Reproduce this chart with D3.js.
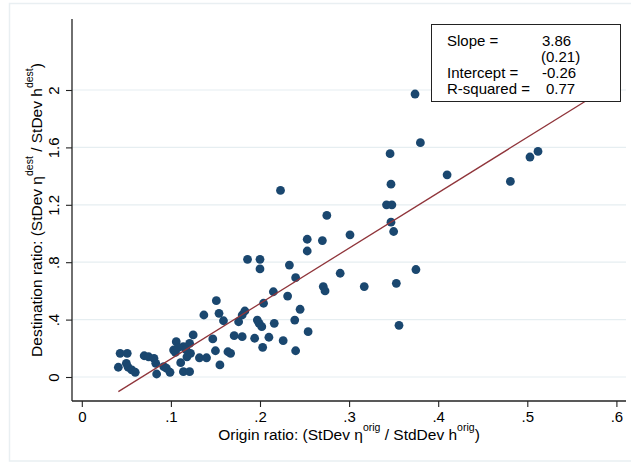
<!DOCTYPE html>
<html>
<head>
<meta charset="utf-8">
<script src="https://cdn.jsdelivr.net/npm/d3@7"></script>
<style>
  body { margin: 0; background: #fff; }
  svg text { font-family: "Liberation Sans", Arial, Helvetica, sans-serif; fill: #000; }
</style>
</head>
<body>
<div id="graphic"></div>
<script>
// Origin ratio (x) and destination ratio (y)
var originRatio = [
    0.043, 0.051, 0.041, 0.050, 0.052, 0.056, 0.060, 0.070, 0.075, 0.081,
    0.083, 0.084, 0.092, 0.095, 0.099, 0.106, 0.103, 0.105, 0.114, 0.121,
    0.125, 0.122, 0.118, 0.111, 0.114, 0.121, 0.132, 0.140, 0.137, 0.147,
    0.150, 0.155, 0.151, 0.154, 0.159, 0.164, 0.167, 0.171, 0.180, 0.176,
    0.180, 0.183, 0.186, 0.200, 0.200, 0.194, 0.197, 0.199, 0.202, 0.203,
    0.204, 0.210, 0.216, 0.215, 0.226, 0.231, 0.233, 0.239, 0.240, 0.240,
    0.245, 0.253, 0.253, 0.254, 0.223, 0.270, 0.271, 0.273, 0.275, 0.290,
    0.301, 0.317, 0.342, 0.348, 0.346, 0.347, 0.347, 0.350, 0.353, 0.356,
    0.374, 0.375, 0.380, 0.410, 0.481, 0.503, 0.512, 0.108, 0.117
];
var destRatio = [
    0.165, 0.165, 0.068, 0.095, 0.068, 0.049, 0.033, 0.148, 0.141, 0.130,
    0.095, 0.021, 0.072, 0.061, 0.033, 0.246, 0.188, 0.172, 0.211, 0.235,
    0.293, 0.165, 0.141, 0.100, 0.037, 0.037, 0.134, 0.134, 0.432, 0.265,
    0.183, 0.084, 0.532, 0.444, 0.392, 0.176, 0.165, 0.288, 0.281, 0.385,
    0.432, 0.460, 0.820, 0.820, 0.753, 0.270, 0.397, 0.374, 0.351, 0.207,
    0.514, 0.277, 0.374, 0.594, 0.253, 0.564, 0.780, 0.397, 0.692, 0.183,
    0.472, 0.960, 0.878, 0.316, 1.300, 0.951, 0.630, 0.600, 1.126, 0.723,
    0.991, 0.630, 1.200, 1.200, 1.556, 1.344, 1.079, 1.014, 0.653, 0.360,
    1.972, 0.749, 1.633, 1.409, 1.363, 1.533, 1.572, 0.205, 0.190
];

var xTicks = [0, 0.1, 0.2, 0.3, 0.4, 0.5, 0.6];
var yTicks = [0, 0.4, 0.8, 1.2, 1.6, 2];

var fitLabels = ['Slope =', '', 'Intercept =', 'R-squared ='];
var fitValues = ['3.86', '(0.21)', '-0.26', '0.77'];
var slope = 3.86;
var intercept = -0.26;

var colors = {
    'navy': '#1a476f', 'maroon': '#90353b', 'grid': '#e6eef1', 'frame': '#e9eff2'
};

var renderGraphic = function() {
    var width = 631,
        height = 464;

    var plot = { left: 72, right: 626, top: 19, bottom: 401 };

    var svg = d3.select('#graphic').append('svg')
        .attr('width', width)
        .attr('height', height);

    // outer graph region outline
    svg.append('rect')
        .attr('x', 9.5).attr('y', 3.5)
        .attr('width', 640).attr('height', 457.5)
        .attr('fill', 'none')
        .attr('stroke', colors['frame'])
        .attr('stroke-width', 1.5);

    var x = d3.scaleLinear().domain([0, 0.6]).range([81.8, 616.4]);
    var y = d3.scaleLinear().domain([0, 2]).range([377, 90]);

    var fmt = function(d) {
        return d === 0 ? '0' : d3.format('.1f')(d).replace(/^0\./, '.').replace(/\.0$/, '');
    };

    // grid lines
    svg.append('g')
        .selectAll('line')
        .data(yTicks)
        .enter().append('line')
        .attr('x1', plot.left).attr('x2', plot.right)
        .attr('y1', function(d) { return y(d); })
        .attr('y2', function(d) { return y(d); })
        .attr('stroke', colors['grid'])
        .attr('stroke-width', 1.2);

    // axes
    var xAxis = svg.append('g')
        .attr('transform', 'translate(0,' + plot.bottom + ')')
        .call(d3.axisBottom(x).tickValues(xTicks).tickSize(6).tickSizeOuter(0).tickFormat(fmt));
    xAxis.select('.domain').remove();
    xAxis.selectAll('.tick line').attr('stroke', '#222').attr('stroke-width', 1.1);
    xAxis.selectAll('.tick text')
        .attr('y', 10.5)
        .attr('dy', '0.71em')
        .style('font-size', '15px');

    var yAxis = svg.append('g')
        .attr('transform', 'translate(' + plot.left + ',0)')
        .call(d3.axisLeft(y).tickValues(yTicks).tickSize(6).tickSizeOuter(0).tickFormat(fmt));
    yAxis.select('.domain').remove();
    yAxis.selectAll('.tick line').attr('stroke', '#222').attr('stroke-width', 1.1);
    yAxis.selectAll('.tick text')
        .attr('x', null).attr('dy', null)
        .attr('text-anchor', 'middle')
        .attr('transform', 'translate(-13.5,0) rotate(-90)')
        .style('font-size', '15px');

    svg.append('line')
        .attr('x1', plot.left).attr('x2', plot.right)
        .attr('y1', plot.bottom).attr('y2', plot.bottom)
        .attr('stroke', '#222').attr('stroke-width', 1.3);
    svg.append('line')
        .attr('x1', plot.left).attr('x2', plot.left)
        .attr('y1', plot.top).attr('y2', plot.bottom)
        .attr('stroke', '#222').attr('stroke-width', 1.3);

    // axis titles, with superscripts
    var xTitle = svg.append('text')
        .attr('x', (plot.left + plot.right) / 2)
        .attr('y', 440)
        .attr('text-anchor', 'middle')
        .style('font-size', '15.5px');
    xTitle.append('tspan').text('Origin ratio: (StDev \u03b7');
    xTitle.append('tspan').attr('dy', -9).style('font-size', '10.5px').text('orig');
    xTitle.append('tspan').attr('dy', 9).text(' / StdDev h');
    xTitle.append('tspan').attr('dy', -9).style('font-size', '10.5px').text('orig');
    xTitle.append('tspan').attr('dy', 9).text(')');

    var yTitle = svg.append('text')
        .attr('transform', 'translate(42,' + ((plot.top + plot.bottom) / 2) + ') rotate(-90)')
        .attr('text-anchor', 'middle')
        .style('font-size', '15.5px');
    yTitle.append('tspan').text('Destination ratio: (StDev \u03b7');
    yTitle.append('tspan').attr('dy', -9).style('font-size', '10.5px').text('dest');
    yTitle.append('tspan').attr('dy', 9).text(' / StDev h');
    yTitle.append('tspan').attr('dy', -9).style('font-size', '10.5px').text('dest');
    yTitle.append('tspan').attr('dy', 9).text(')');

    // scatter points
    var points = originRatio.map(function(d, i) { return { x: d, y: destRatio[i] }; });

    svg.append('g')
        .selectAll('circle')
        .data(points)
        .enter().append('circle')
        .attr('cx', function(d) { return x(d.x); })
        .attr('cy', function(d) { return y(d.y); })
        .attr('r', 4.4)
        .attr('fill', colors['navy']);

    // fitted line
    var xMin = d3.min(originRatio);
    svg.append('line')
        .attr('x1', x(xMin)).attr('y1', y(intercept + slope * xMin))
        .attr('x2', x(0.6)).attr('y2', y(intercept + slope * 0.6))
        .attr('stroke', colors['maroon'])
        .attr('stroke-width', 1.3);

    // fit statistics box
    var box = svg.append('g');
    box.append('rect')
        .attr('x', 431.5).attr('y', 24.5)
        .attr('width', 189).attr('height', 77)
        .attr('fill', '#fff')
        .attr('stroke', '#222')
        .attr('stroke-width', 1);

    box.selectAll('text.label')
        .data(fitLabels)
        .enter().append('text')
        .attr('class', 'label')
        .attr('x', 447)
        .attr('y', function(d, i) { return 46 + i * 16; })
        .style('font-size', '15px')
        .text(function(d) { return d; });

    box.selectAll('text.value')
        .data(fitValues)
        .enter().append('text')
        .attr('class', 'value')
        .attr('x', function(d, i) { return i === 3 ? 546 : (i === 1 ? 541 : 542); })
        .attr('y', function(d, i) { return 46 + i * 16; })
        .style('font-size', '15px')
        .text(function(d) { return d; });
}

renderGraphic();
</script>
</body>
</html>
